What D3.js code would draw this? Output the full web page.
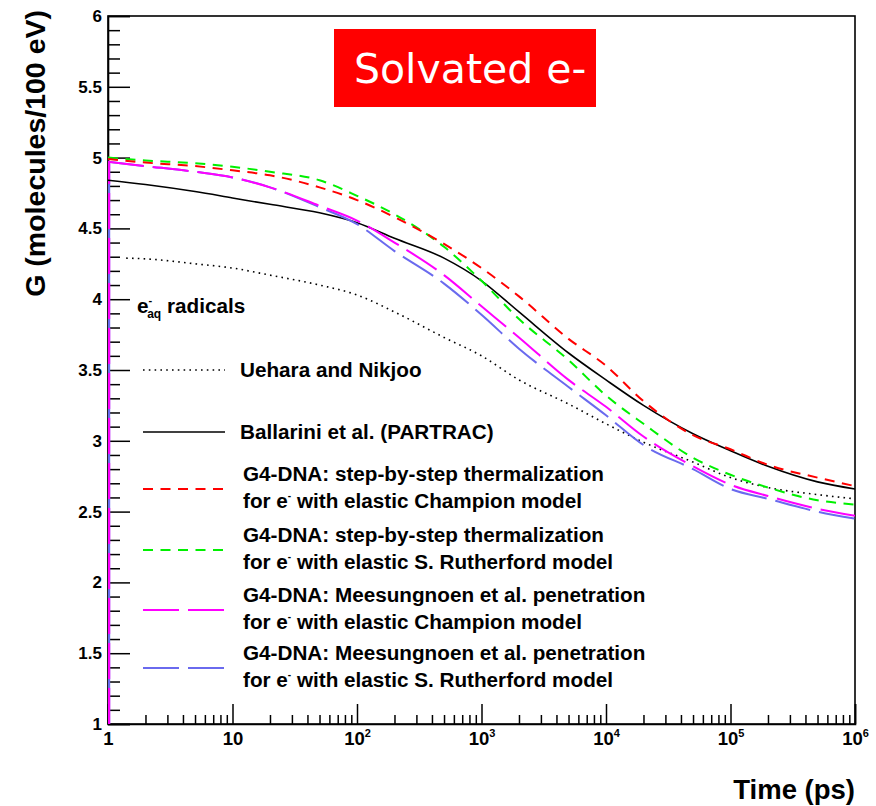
<!DOCTYPE html>
<html><head><meta charset="utf-8">
<script src="https://cdn.jsdelivr.net/npm/d3@7"></script>
<style>body{margin:0;background:#fff}svg{display:block}</style>
</head><body>
<svg id="c" width="876" height="806"></svg>
<script>
// ---- data ----
const times = [1,2,5,10,20,50,100,200,500,1e3,2e3,5e3,1e4,2e4,5e4,1e5,2e5,5e5,1e6];
const timesUehara = [1.4,2,5,10,20,50,100,200,500,1e3,2e3,5e3,1e4,2e4,5e4,1e5,2e5,5e5,1e6];
const uehara    = [4.29,4.285,4.25,4.22,4.17,4.10,4.03,3.91,3.73,3.60,3.43,3.26,3.12,2.99,2.85,2.74,2.67,2.62,2.59];
const ballarini = [4.84,4.81,4.76,4.715,4.67,4.61,4.54,4.43,4.29,4.13,3.91,3.62,3.43,3.25,3.05,2.93,2.82,2.71,2.66];
const champion  = [4.99,4.965,4.94,4.91,4.875,4.79,4.70,4.58,4.39,4.22,4.02,3.72,3.53,3.28,3.04,2.94,2.83,2.74,2.68];
const rutherford= [5.0,4.98,4.96,4.935,4.90,4.84,4.73,4.60,4.37,4.13,3.86,3.57,3.32,3.12,2.88,2.76,2.67,2.58,2.55];
const meesChampion   = [4.97,4.94,4.90,4.86,4.79,4.66,4.555,4.40,4.17,3.95,3.73,3.43,3.24,3.03,2.82,2.69,2.61,2.52,2.47];
const meesRutherford = [4.97,4.94,4.90,4.86,4.79,4.65,4.53,4.34,4.11,3.89,3.65,3.38,3.18,2.97,2.80,2.66,2.59,2.50,2.45];
const xMajorTicks = [1,10,1e2,1e3,1e4,1e5,1e6];
const xTickLabels = [["1",""],["10",""],["10","2"],["10","3"],["10","4"],["10","5"],["10","6"]];
const yMajorTicks = [1,1.5,2,2.5,3,3.5,4,4.5,5,5.5,6];
const yTickLabels = ["1","1.5","2","2.5","3","3.5","4","4.5","5","5.5","6"];

const svg = d3.select("#c");
const L=108,R=855,T=16,B=724;
const x = d3.scaleLog().domain([1,1e6]).range([L,R]);
const y = d3.scaleLinear().domain([1,6]).range([B,T]);
const F = "'Liberation Sans', Arial, Helvetica, sans-serif";

// frame
svg.append("rect").attr("x",L).attr("y",T).attr("width",R-L).attr("height",B-T)
  .attr("fill","none").attr("stroke","#000").attr("stroke-width",1.6);

// x minor ticks
const xMinor=[];
for(let d=1; d<1e6; d*=10) for(let k=2;k<=9;k++) xMinor.push(d*k);
svg.append("g").attr("transform",`translate(0,${B})`)
  .call(d3.axisBottom(x).tickValues(xMinor).tickSize(-9).tickFormat(""))
  .call(g=>g.select(".domain").remove())
  .selectAll("line").attr("stroke","#000").attr("stroke-width",1.5);
const gx = svg.append("g").attr("transform",`translate(0,${B})`)
  .call(d3.axisBottom(x).tickValues(xMajorTicks).tickSize(-20).tickFormat(""));
gx.select(".domain").attr("stroke","#000").attr("stroke-width",1.6);
gx.selectAll("line").attr("stroke","#000").attr("stroke-width",1.5);
gx.selectAll(".tick").each(function(d,i){
  const t = d3.select(this).append("text").attr("y",21).attr("dy",0)
    .attr("text-anchor","middle").attr("fill","#000")
    .style("font-family",F).style("font-weight","bold").style("font-size","18.5px");
  t.append("tspan").text(xTickLabels[i][0]);
  if(xTickLabels[i][1]) t.append("tspan").attr("dy",-8).style("font-size","11px").text(xTickLabels[i][1]);
});

// y ticks
const yMinor=d3.range(10,61).map(v=>v/10).filter(v=>Math.abs(v*2-Math.round(v*2))>1e-6);
svg.append("g").attr("transform",`translate(${L},0)`)
  .call(d3.axisLeft(y).tickValues(yMinor).tickSize(-12).tickFormat(""))
  .call(g=>g.select(".domain").remove())
  .selectAll("line").attr("stroke","#000").attr("stroke-width",1.5);
const gy = svg.append("g").attr("transform",`translate(${L},0)`)
  .call(d3.axisLeft(y).tickValues(yMajorTicks).tickSize(-22).tickPadding(6)
        .tickFormat((d,i)=>yTickLabels[i]));
gy.select(".domain").attr("stroke","#000").attr("stroke-width",1.6);
gy.selectAll("line").attr("stroke","#000").attr("stroke-width",1.5);
gy.selectAll("text").attr("fill","#000").style("font-family",F)
  .style("font-weight","bold").style("font-size","17px");

// axis titles
svg.append("text").attr("transform","translate(45,10) rotate(-90)")
  .attr("text-anchor","end").style("font-family",F).style("font-weight","bold")
  .style("font-size","28.5px").text("G (molecules/100 eV)");
svg.append("text").attr("x",855).attr("y",799).attr("text-anchor","end")
  .style("font-family",F).style("font-weight","bold").style("font-size","27.5px").text("Time (ps)");

// curves
svg.append("clipPath").attr("id","clip").append("rect")
  .attr("x",L).attr("y",T).attr("width",R-L).attr("height",B-T);
const plot = svg.append("g").attr("clip-path","url(#clip)");
const line = d3.line().x(d=>x(d[0])).y(d=>y(d[1])).curve(d3.curveMonotoneX);
const series = [
  {t:timesUehara, v:uehara, c:"#000", w:1.6, dash:"1.6,4.2", name:"Uehara and Nikjoo"},
  {t:times, v:ballarini, c:"#000", w:1.6, dash:null, name:"Ballarini et al. (PARTRAC)"},
  {t:times, v:meesRutherford, c:"#6a6aee", w:2, dash:"36,9", l1:"G4-DNA: Meesungnoen et al. penetration", l2:"with elastic S. Rutherford model"},
  {t:times, v:meesChampion, c:"#ff00ff", w:2, dash:"36,9", l1:"G4-DNA: Meesungnoen et al. penetration", l2:"with elastic Champion model"},
  {t:times, v:rutherford, c:"#00f000", w:2, dash:"10,7.5", l1:"G4-DNA: step-by-step thermalization", l2:"with elastic S. Rutherford model"},
  {t:times, v:champion, c:"#ff0000", w:2, dash:"10,7.5", l1:"G4-DNA: step-by-step thermalization", l2:"with elastic Champion model"},
];
// vertical start segments (blue under magenta)
[series[2],series[3]].forEach((s,i)=>{
  plot.append("path").datum([[s.t[0],1],[s.t[0],s.v[0]]])
    .attr("d",d3.line().x(d=>x(d[0])+1).y(d=>y(d[1])))
    .attr("fill","none").attr("stroke",s.c).attr("stroke-width",2.4)
    .attr("stroke-dasharray", i===0?null:"36,9");
});
series.forEach(s=>{
  plot.append("path").datum(s.t.map((t,i)=>[t,s.v[i]])).attr("d",line)
    .attr("fill","none").attr("stroke",s.c).attr("stroke-width",s.w)
    .attr("stroke-dasharray",s.dash);
});

// legend
const lg = svg.append("g").style("font-family",F).style("font-weight","bold").style("font-size","20.7px");
// title e_aq- radicals
const tt = lg.append("text").attr("x",137).attr("y",313);
tt.append("tspan").text("e");
tt.append("tspan").attr("dy",-9).style("font-size","11px").text("-");
tt.append("tspan").attr("dx",-5).attr("dy",14).style("font-size","12px").text("aq");
tt.append("tspan").attr("dy",-5).text(" radicals");

const simple = [{s:series[0], y:370},{s:series[1], y:432}];
simple.forEach(e=>{
  lg.append("line").attr("x1",143).attr("x2",225).attr("y1",e.y).attr("y2",e.y)
    .attr("stroke",e.s.c).attr("stroke-width",e.s.w).attr("stroke-dasharray",e.s.dash);
  lg.append("text").attr("x",240).attr("y",e.y+7).text(e.s.name);
});
const g4 = [{s:series[5], y:489},{s:series[4], y:550},{s:series[3], y:610},{s:series[2], y:668}];
g4.forEach(e=>{
  lg.append("line").attr("x1",143).attr("x2",225).attr("y1",e.y).attr("y2",e.y)
    .attr("stroke",e.s.c).attr("stroke-width",e.s.w).attr("stroke-dasharray",e.s.dash);
  lg.append("text").attr("x",243).attr("y",e.y-8).text(e.s.l1);
  const t2 = lg.append("text").attr("x",243).attr("y",e.y+19);
  t2.append("tspan").text("for e");
  t2.append("tspan").attr("dy",-9).style("font-size","10px").text("-");
  t2.append("tspan").attr("dy",9).text(" "+e.s.l2);
});

// title box
svg.append("rect").attr("x",334).attr("y",29).attr("width",262).attr("height",78).attr("fill","#ff0000");
svg.append("text").attr("x",354).attr("y",83).attr("fill","#fff")
  .style("font-family","'DejaVu Sans', Verdana, sans-serif").style("font-size","41px").text("Solvated e-");
</script>
</body></html>
